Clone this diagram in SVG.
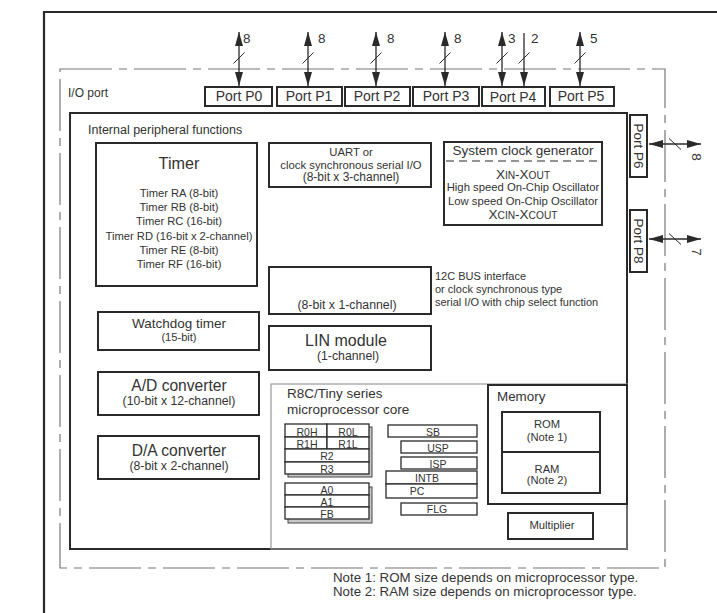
<svg xmlns="http://www.w3.org/2000/svg" width="717" height="613" viewBox="0 0 717 613">
<style>
.box{fill:#fff;stroke:#2a2a2a;stroke-width:2}
.reg{fill:#fff;stroke:#2a2a2a;stroke-width:1.3}
.shd{fill:#c8c8c8;stroke:#444;stroke-width:1}
.t{font-family:"Liberation Sans",Arial,sans-serif;fill:#333}
.m{text-anchor:middle}
.ln{stroke:#2a2a2a;stroke-width:1.3;fill:none}
.sl{stroke:#2a2a2a;stroke-width:1;fill:none}
</style>
<defs>
<marker id="ah" markerUnits="userSpaceOnUse" markerWidth="14" markerHeight="8" refX="14" refY="4" orient="auto-start-reverse">
<path d="M0,0 L14,4 L0,8 z" fill="#2a2a2a"/>
</marker>
</defs>
<rect width="717" height="613" fill="#fff"/>
<path d="M44,613 V12 H717" fill="none" stroke="#2a2a2a" stroke-width="2.2"/>
<g id="io-port">
<rect x="60" y="69" width="605" height="499" fill="none" stroke="#777" stroke-width="1.2" stroke-dasharray="52 7 8 7"/>
<text class="t" x="68" y="97" font-size="12">I/O port</text>
</g>
<g id="internal">
<rect class="box" x="70" y="113" width="557" height="436"/>
<text class="t" x="88" y="134" font-size="12.5">Internal peripheral functions</text>
</g>
<g id="port-p0"><rect class="box" x="205" y="87" width="67" height="19"/><text class="t m" x="239" y="101" font-size="14">Port P0</text></g>
<g id="port-p1"><rect class="box" x="277" y="87" width="65" height="19"/><text class="t m" x="309" y="101" font-size="14">Port P1</text></g>
<g id="port-p2"><rect class="box" x="345" y="87" width="65" height="19"/><text class="t m" x="377" y="101" font-size="14">Port P2</text></g>
<g id="port-p3"><rect class="box" x="413" y="87" width="66" height="19"/><text class="t m" x="446" y="101" font-size="14">Port P3</text></g>
<g id="port-p4"><rect class="box" x="482" y="87" width="63" height="19"/><text class="t m" x="513" y="102" font-size="14">Port P4</text></g>
<g id="port-p5"><rect class="box" x="550" y="87" width="64" height="19"/><text class="t m" x="581" y="101" font-size="14">Port P5</text></g>
<g id="port-p6"><rect class="box" x="630" y="115" width="17" height="62"/><text class="t m" transform="translate(634,146) rotate(90)" font-size="13.5">Port P6</text></g>
<g id="port-p8"><rect class="box" x="630" y="210" width="17" height="62"/><text class="t m" transform="translate(634,241) rotate(90)" font-size="13.5">Port P8</text></g>
<g id="connectors">
<path class="ln" d="M239,32 V86" marker-start="url(#ah)" marker-end="url(#ah)"/>
<path class="sl" d="M233.5,63.5 L244.5,52.5"/>
<text class="t" x="243" y="43" font-size="13.5">8</text>
<path class="ln" d="M308,32 V86" marker-start="url(#ah)" marker-end="url(#ah)"/>
<path class="sl" d="M302.5,63.5 L313.5,52.5"/>
<text class="t" x="318" y="43" font-size="13.5">8</text>
<path class="ln" d="M376,32 V86" marker-start="url(#ah)" marker-end="url(#ah)"/>
<path class="sl" d="M370.5,63.5 L381.5,52.5"/>
<text class="t" x="387" y="43" font-size="13.5">8</text>
<path class="ln" d="M445,32 V86" marker-start="url(#ah)" marker-end="url(#ah)"/>
<path class="sl" d="M439.5,63.5 L450.5,52.5"/>
<text class="t" x="454" y="43" font-size="13.5">8</text>
<path class="ln" d="M502,32 V86" marker-start="url(#ah)" marker-end="url(#ah)"/>
<path class="sl" d="M496.5,63.5 L507.5,52.5"/>
<text class="t" x="508" y="43" font-size="13.5">3</text>
<path class="ln" d="M524,33 V86" marker-end="url(#ah)"/>
<path class="sl" d="M518.5,63.5 L529.5,52.5"/>
<text class="t" x="531" y="43" font-size="13.5">2</text>
<path class="ln" d="M580,32 V86" marker-start="url(#ah)" marker-end="url(#ah)"/>
<path class="sl" d="M574.5,63.5 L585.5,52.5"/>
<text class="t" x="590" y="43" font-size="13.5">5</text>
<path class="ln" d="M649,144 H701" marker-start="url(#ah)" marker-end="url(#ah)"/>
<path class="sl" d="M669,138.5 L681,149.5"/>
<text class="t m" transform="translate(692,157) rotate(90)" font-size="13.5">8</text>
<path class="ln" d="M649,239 H701" marker-start="url(#ah)" marker-end="url(#ah)"/>
<path class="sl" d="M669,233.5 L681,244.5"/>
<text class="t m" transform="translate(692,252) rotate(90)" font-size="13.5">7</text>
</g>
<g id="timer">
<rect class="box" x="96" y="143" width="161" height="143"/>
<text class="t m" x="179" y="169" font-size="16.2">Timer</text>
<g class="t m" font-size="11.2">
<text x="179" y="197">Timer RA (8-bit)</text>
<text x="179" y="211">Timer RB (8-bit)</text>
<text x="179" y="225">Timer RC (16-bit)</text>
<text x="179" y="240">Timer RD (16-bit x 2-channel)</text>
<text x="179" y="254">Timer RE (8-bit)</text>
<text x="179" y="268">Timer RF (16-bit)</text>
</g>
</g>
<g id="uart">
<rect class="box" x="269" y="143" width="162" height="44"/>
<g class="t m" font-size="11.3">
<text x="351" y="156">UART or</text>
<text x="351" y="168.5">clock synchronous serial I/O</text>
<text x="351" y="181" font-size="12">(8-bit x 3-channel)</text>
</g>
</g>
<g id="clock">
<rect class="box" x="444" y="142" width="158" height="83"/>
<text class="t m" x="523" y="155" font-size="13.5">System clock generator</text>
<path d="M446,161 H600" stroke="#2a2a2a" stroke-width="1.2" stroke-dasharray="8 5"/>
<text class="t m" x="523" y="178.5" font-size="13.5">X<tspan font-size="10.2">IN</tspan>-X<tspan font-size="10.2">OUT</tspan></text>
<text class="t m" x="523" y="191" font-size="11.3">High speed On-Chip Oscillator</text>
<text class="t m" x="523" y="204.5" font-size="11.3">Low speed On-Chip Oscillator</text>
<text class="t m" x="523" y="219" font-size="13.5">X<tspan font-size="10.2">CIN</tspan>-X<tspan font-size="10.2">COUT</tspan></text>
</g>
<g id="i2c">
<rect class="box" x="269" y="267" width="162" height="47"/>
<text class="t m" x="347" y="309" font-size="12.3">(8-bit x 1-channel)</text>
<g class="t" font-size="11">
<text x="435" y="280">12C BUS interface</text>
<text x="435" y="293">or clock synchronous type</text>
<text x="435" y="306">serial I/O with chip select function</text>
</g>
</g>
<g id="lin">
<rect class="box" x="269" y="326" width="162" height="44"/>
<text class="t m" x="346" y="346" font-size="16">LIN module</text>
<text class="t m" x="348" y="360" font-size="12.3">(1-channel)</text>
</g>
<g id="watchdog">
<rect class="box" x="98" y="312" width="161" height="38"/>
<text class="t m" x="179" y="328" font-size="13.5">Watchdog timer</text>
<text class="t m" x="179" y="341" font-size="11.1">(15-bit)</text>
</g>
<g id="adc">
<rect class="box" x="98" y="372" width="161" height="43"/>
<text class="t m" x="179" y="391" font-size="15.6">A/D converter</text>
<text class="t m" x="179" y="405" font-size="12.3">(10-bit x 12-channel)</text>
</g>
<g id="dac">
<rect class="box" x="98" y="436" width="161" height="43"/>
<text class="t m" x="179" y="456" font-size="15.6">D/A converter</text>
<text class="t m" x="179" y="470" font-size="12.3">(8-bit x 2-channel)</text>
</g>
<g id="core">
<rect x="271" y="384" width="356" height="165" fill="none" stroke="#999" stroke-width="1.2"/>
<text class="t" x="287" y="398" font-size="13.5">R8C/Tiny series</text>
<text class="t" x="287" y="414" font-size="13.5">microprocessor core</text>
<g id="regs-r">
<rect class="shd" x="288" y="427" width="84" height="50"/>
<rect class="reg" x="285" y="424" width="42" height="13"/>
<rect class="reg" x="327" y="424" width="42" height="13"/>
<rect class="reg" x="285" y="437" width="42" height="12"/>
<rect class="reg" x="327" y="437" width="42" height="12"/>
<rect class="reg" x="285" y="449" width="84" height="13"/>
<rect class="reg" x="285" y="462" width="84" height="12"/>
<g class="t m" font-size="10.5">
<text x="307" y="435.5">R0H</text><text x="348" y="435.5">R0L</text>
<text x="307" y="447.5">R1H</text><text x="348" y="447.5">R1L</text>
<text x="327" y="459.5">R2</text><text x="327" y="472.5">R3</text>
</g>
</g>
<g id="regs-a">
<rect class="shd" x="288" y="487" width="84" height="36"/>
<rect class="reg" x="285" y="483" width="84" height="12"/>
<rect class="reg" x="285" y="495" width="84" height="12"/>
<rect class="reg" x="285" y="507" width="84" height="12"/>
<g class="t m" font-size="10.5">
<text x="327" y="493.5">A0</text><text x="327" y="505.5">A1</text><text x="327" y="517.5">FB</text>
</g>
</g>
<g id="regs-s">
<rect class="reg" x="388" y="425" width="89" height="12"/>
<rect class="reg" x="401" y="441" width="76" height="12"/>
<rect class="reg" x="401" y="457" width="76" height="12"/>
<rect class="reg" x="386" y="471" width="91" height="13"/>
<rect class="reg" x="386" y="484" width="91" height="14"/>
<rect class="reg" x="401" y="503" width="76" height="12"/>
<g class="t m" font-size="10.5">
<text x="433" y="435.5">SB</text>
<text x="438" y="451.5">USP</text>
<text x="438" y="467.5">ISP</text>
<text x="427" y="482">INTB</text>
<text x="417" y="495">PC</text>
<text x="437" y="513">FLG</text>
</g>
</g>
</g>
<g id="memory">
<rect class="box" x="488" y="385" width="139" height="119"/>
<text class="t" x="497" y="401" font-size="13.4">Memory</text>
</g>
<g id="rom">
<rect class="box" x="502" y="412" width="98" height="40"/>
<text class="t m" x="547" y="428" font-size="11.2">ROM</text>
<text class="t m" x="547" y="441" font-size="11.2">(Note 1)</text>
</g>
<g id="ram">
<rect class="box" x="502" y="452" width="98" height="41"/>
<text class="t m" x="547" y="473" font-size="11.2">RAM</text>
<text class="t m" x="547" y="484" font-size="11.2">(Note 2)</text>
</g>
<g id="multiplier">
<rect class="box" x="508" y="513" width="85" height="26"/>
<text class="t m" x="552" y="529" font-size="11.3">Multiplier</text>
</g>
<g id="notes" class="t" font-size="13.3">
<text x="333" y="582">Note 1: ROM size depends on microprocessor type.</text>
<text x="333" y="596">Note 2: RAM size depends on microprocessor type.</text>
</g>
</svg>
